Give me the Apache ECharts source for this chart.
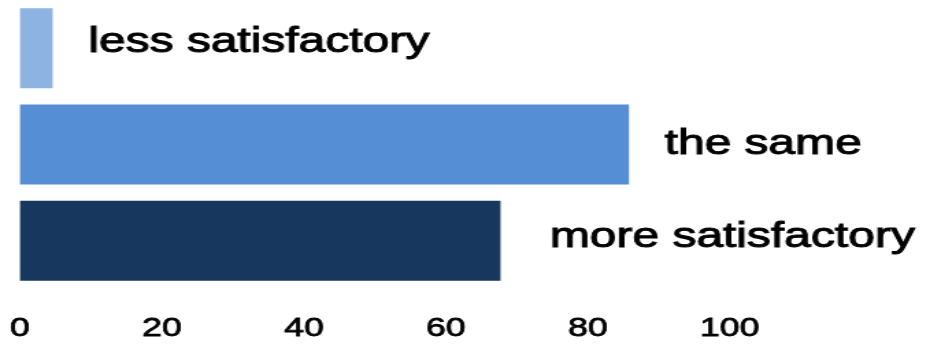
<!DOCTYPE html>
<html>
<head>
<meta charset="utf-8">
<script src="https://cdn.jsdelivr.net/npm/echarts@6/dist/echarts.min.js"></script>
<style>
  html, body { margin: 0; padding: 0; background: #fff; overflow: hidden; }
  #wrap { width: 930px; height: 345px; overflow: hidden; }
  #chart { width: 679px; height: 345px; transform: scaleX(1.36966); transform-origin: 0 0; }
</style>
</head>
<body>
<div id="wrap"><div id="chart"></div></div>
<script>
// ---- data ----
const categories = ['less satisfactory', 'the same', 'more satisfactory'];
const values = [4.6, 85.8, 67.7];
const xTicks = [0, 20, 40, 60, 80, 100];

// ---- styles ----
const barColors = ['#8DB3E2', '#558ED5', '#17375E'];
const labelDistance = [26, 26, 36];
const labelOffsetY = [-6, 0, -3];

const chart = echarts.init(document.getElementById('chart'), null, { renderer: 'canvas' });
chart.setOption({
  animation: false,
  grid: { left: 14.6, right: 146.2, top: 0, bottom: 56, containLabel: false },
  xAxis: {
    type: 'value',
    min: xTicks[0],
    max: xTicks[xTicks.length - 1],
    interval: xTicks[1] - xTicks[0],
    axisLine: { show: false },
    axisTick: { show: false },
    splitLine: { show: false },
    axisLabel: {
      color: '#000',
      fontSize: 26,
      fontFamily: '"Liberation Sans", Arial, sans-serif',
      textBorderColor: '#000',
      textBorderWidth: 0.8,
      margin: 27
    }
  },
  yAxis: {
    type: 'category',
    data: categories,
    inverse: true,
    axisLine: { show: false },
    axisTick: { show: false },
    axisLabel: { show: false },
    splitLine: { show: false }
  },
  series: [{
    type: 'bar',
    barWidth: 80,
    data: values.map((v, i) => ({
      value: v,
      itemStyle: { color: barColors[i] },
      label: { distance: labelDistance[i], offset: [0, labelOffsetY[i]] }
    })),
    label: {
      show: true,
      position: 'right',
      formatter: '{b}',
      color: '#000',
      fontSize: 35,
      fontFamily: '"Liberation Sans", Arial, sans-serif',
      textBorderColor: '#000',
      textBorderWidth: 1
    }
  }]
});
</script>
</body>
</html>
